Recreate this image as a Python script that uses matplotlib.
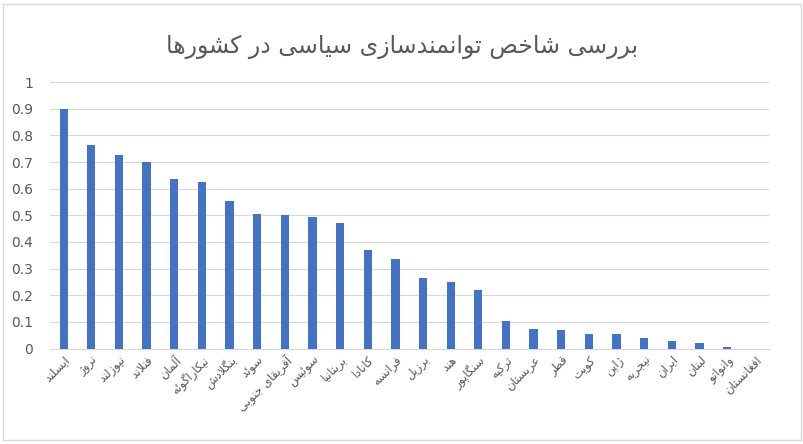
import unicodedata
import matplotlib
matplotlib.use("Agg")
import matplotlib.pyplot as plt

title = "بررسی شاخص توانمندسازی سیاسی در کشورها"
countries = ["ایسلند", "نروژ", "نیوزلند", "فنلاند", "آلمان", "نیکاراگوئه", "بنگلادش", "سوئد",
             "آفریقای جنوبی", "سوئیس", "بریتانیا", "کانادا", "فرانسه", "برزیل", "هند", "سنگاپور",
             "ترکیه", "عربستان", "قطر", "کویت", "ژاپن", "نیجریه", "ایران", "لبنان", "وانواتو", "افغانستان"]
values = [0.90, 0.765, 0.725, 0.70, 0.635, 0.625, 0.555, 0.505, 0.50, 0.495, 0.47, 0.37, 0.335,
          0.265, 0.25, 0.22, 0.105, 0.075, 0.07, 0.055, 0.055, 0.04, 0.03, 0.02, 0.005, 0.0]
yticks = [0, 0.1, 0.2, 0.3, 0.4, 0.5, 0.6, 0.7, 0.8, 0.9, 1]

RIGHT_ONLY = set("اآأإدذرزژوؤة")

def form(ch, f):
    try:
        return unicodedata.lookup(unicodedata.name(ch) + " " + f + " FORM")
    except Exception:
        return ch

def is_ar(ch):
    return '\u0600' <= ch <= '\u06FF'

def shape(s):
    out = []
    n = len(s)
    i = 0
    while i < n:
        ch = s[i]
        if not is_ar(ch):
            out.append(ch); i += 1; continue
        prev = s[i-1] if i > 0 else ' '
        join_prev = is_ar(prev) and prev not in RIGHT_ONLY
        if ch == 'ل' and i + 1 < n and s[i+1] in 'اآأإ':
            lig = unicodedata.lookup("ARABIC LIGATURE LAM WITH ALEF " + ("FINAL" if join_prev else "ISOLATED") + " FORM")
            out.append(lig); i += 2; continue
        nxt = s[i+1] if i + 1 < n else ' '
        join_next = is_ar(nxt) and ch not in RIGHT_ONLY
        if join_prev and join_next:
            f = "MEDIAL"
        elif join_prev:
            f = "FINAL"
        elif join_next:
            f = "INITIAL"
        else:
            f = "ISOLATED"
        out.append(form(ch, f)); i += 1
    return ''.join(out)[::-1]

plt.rcParams['font.family'] = ['DejaVu Sans']
fig = plt.figure(figsize=(8.04, 4.44), dpi=100)
ax = fig.add_axes([0.062, 0.215, 0.894, 0.60])
x = list(range(len(countries)))
ax.bar(x, values, width=0.3, color='#4472C4', zorder=3)
ax.set_ylim(0, 1)
ax.set_xlim(-0.5, len(countries) - 0.5)
ax.set_yticks(yticks)
ax.set_yticklabels([f"{t:g}" for t in yticks], fontsize=10, color='#595959')
ax.yaxis.grid(True, color='#D9D9D9', lw=0.8, zorder=0)
ax.set_xticks(x)
ax.set_xticklabels([shape(c) for c in countries], rotation=45, ha='right', rotation_mode='anchor',
                   fontsize=8.5, color='#595959')
ax.tick_params(length=0)
ax.tick_params(axis='y', pad=12)
for s in ['top', 'right', 'left']:
    ax.spines[s].set_visible(False)
ax.spines['bottom'].set_color('#D9D9D9')
fig.text(0.5, 0.895, shape(title), ha='center', va='center', fontsize=17, color='#595959')
fig.patches.append(plt.Rectangle((0.004, 0.01), 0.992, 0.98, transform=fig.transFigure,
                                 fill=False, ec='#D9D9D9', lw=1))
fig.savefig("out.png")
